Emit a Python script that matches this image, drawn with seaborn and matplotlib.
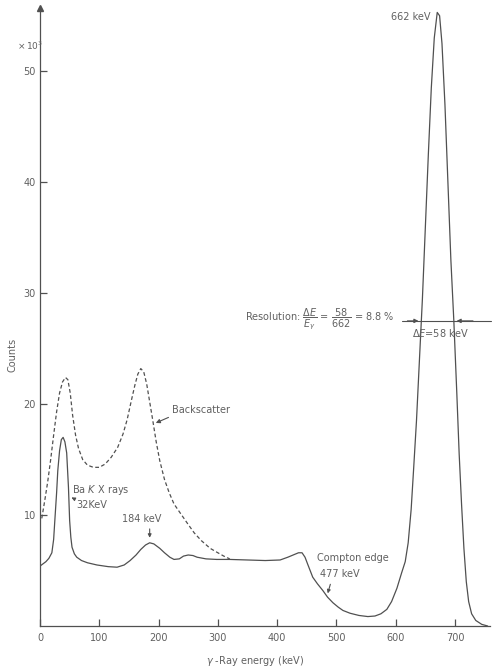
import numpy as np
import pandas as pd
import seaborn as sns
import matplotlib.pyplot as plt

# ---- data (energy in keV, counts in thousands) ----
energy_solid = [0, 5, 10, 15, 20, 23, 25, 28, 30, 33, 36, 39, 42, 45, 48, 50, 52, 54, 58, 62,
                70, 80, 96, 115, 130, 142, 152, 162, 170, 178, 185, 192, 202, 210, 219, 226,
                235, 242, 250, 258, 265, 280, 298, 320, 350, 380, 405, 418, 427, 436, 442,
                447, 452, 460, 468, 477, 485, 494, 503, 511, 523, 538, 553, 565, 575, 585,
                593, 602, 610, 616, 621, 626, 630, 635, 640, 645, 650, 655, 660, 665, 670,
                674, 678, 683, 688, 693, 698, 703, 707, 711, 715, 719, 723, 728, 735, 745, 755]
counts_solid = [5.4, 5.6, 5.8, 6.1, 6.6, 7.8, 9.5, 12.0, 14.0, 15.8, 16.8, 17.0, 16.6, 15.6, 12.5,
                9.5, 8.0, 7.1, 6.5, 6.2, 5.9, 5.7, 5.5, 5.35, 5.3, 5.5, 5.9, 6.4, 6.9, 7.3, 7.5,
                7.4, 7.0, 6.6, 6.2, 6.0, 6.05, 6.3, 6.4, 6.35, 6.2, 6.05, 6.0, 6.0, 5.95, 5.9,
                5.95, 6.2, 6.4, 6.6, 6.6, 6.2, 5.5, 4.4, 3.8, 3.2, 2.6, 2.1, 1.7, 1.4, 1.15,
                0.95, 0.85, 0.9, 1.1, 1.5, 2.2, 3.4, 4.8, 5.8, 7.5, 10.5, 14.0, 18.5, 24.0,
                29.5, 36.0, 42.5, 48.5, 53.0, 55.3, 55.0, 52.5, 47.0, 40.0, 33.0, 27.5, 21.0,
                15.5, 11.0, 7.0, 4.0, 2.2, 1.1, 0.5, 0.15, 0.0]

energy_back = [3, 8, 13, 18, 23, 28, 33, 38, 43, 47, 51, 55, 60, 65, 72, 80, 90, 100, 110, 120,
               131, 140, 147, 154, 160, 165, 170, 175, 180, 185, 190, 196, 202, 210, 218, 226,
               235, 248, 260, 272, 287, 300, 310, 320]
counts_back = [9.7, 11.3, 13.0, 15.0, 17.2, 19.3, 21.0, 22.0, 22.4, 22.2, 21.0, 19.0, 17.2, 16.0,
               15.0, 14.5, 14.3, 14.3, 14.6, 15.2, 16.1, 17.3, 18.6, 20.3, 21.7, 22.7, 23.2,
               22.9, 21.8, 20.2, 18.6, 16.6, 14.9, 13.2, 12.0, 11.0, 10.3, 9.3, 8.4, 7.7, 7.0,
               6.6, 6.3, 6.05]

xticks = [0, 100, 200, 300, 400, 500, 600, 700]
yticks = [10, 20, 30, 40, 50]

df_solid = pd.DataFrame({"energy": energy_solid, "counts": counts_solid})
df_back = pd.DataFrame({"energy": energy_back, "counts": counts_back})

sns.set_style("ticks")
plt.rcParams['font.family'] = ['DejaVu Sans']

LINE = "#505050"
TXT = "#606060"
FS = 7

fig = plt.figure(figsize=(4.94, 6.69), dpi=100)
ax = fig.add_axes([40/494, 1 - 626/669, 450/494, (626 - 8)/669])

sns.lineplot(data=df_solid, x="energy", y="counts", ax=ax, color=LINE, lw=0.9,
             estimator=None, sort=False)
sns.lineplot(data=df_back, x="energy", y="counts", ax=ax, color=LINE, lw=0.9,
             estimator=None, sort=False, linestyle=(0, (3, 2)))

ax.set_xlim(0, 759)
ax.set_ylim(0, 55.7)
ax.set_xticks(xticks)
ax.set_yticks(yticks)
ax.set_xticklabels([str(v) for v in xticks], fontsize=FS, color=TXT)
ax.set_yticklabels([str(v) for v in yticks], fontsize=FS, color=TXT)
ax.tick_params(direction='in', length=5, width=0.9, color=LINE)
ax.tick_params(axis='y', pad=3)
ax.tick_params(axis='x', pad=5)
ax.set_xlabel("")
ax.set_ylabel("")
for s in ("top", "right"):
    ax.spines[s].set_visible(False)
for s in ("left", "bottom"):
    ax.spines[s].set_color(LINE)
    ax.spines[s].set_linewidth(0.9)

# arrow at top of y-axis
ax.plot(0, 1, marker='^', color=LINE, markersize=5, transform=ax.transAxes, clip_on=False)

# figure-level labels
fig.text(30/494, 1 - 46/669, r"$\times\,10^3$", fontsize=FS - 0.5, color=TXT, ha='center', va='center')
fig.text(12/494, 1 - 355/669, "Counts", fontsize=FS, color=TXT, rotation=90, ha='center', va='center')
fig.text(255/494, 1 - 661/669, r"$\gamma$ -Ray energy (keV)", fontsize=FS, color=TXT, ha='center', va='center')

# annotations
ax.text(658, 54.9, "662 keV", fontsize=FS, color=TXT, ha='right', va='center')
ax.text(346, 27.6, r"Resolution: $\dfrac{\Delta E}{E_\gamma}$ = $\dfrac{58}{662}$ = 8.8 %",
        fontsize=FS, color=TXT, ha='left', va='center')
ax.plot([610, 760], [27.5, 27.5], color=LINE, lw=0.8, clip_on=False)
ax.annotate("", xy=(643, 27.5), xytext=(615, 27.5),
            arrowprops=dict(arrowstyle='-|>', color=LINE, lw=0.8, mutation_scale=6))
ax.annotate("", xy=(698, 27.5), xytext=(735, 27.5),
            arrowprops=dict(arrowstyle='-|>', color=LINE, lw=0.8, mutation_scale=6))
ax.text(675, 26.4, r"$\Delta E$=58 keV", fontsize=FS, color=TXT, ha='center', va='center')

ax.text(223, 19.5, "Backscatter", fontsize=FS, color=TXT, ha='left', va='center')
ax.annotate("", xy=(191, 18.2), xytext=(221, 18.9),
            arrowprops=dict(arrowstyle='-|>', color=LINE, lw=0.8, mutation_scale=6))

ax.text(54, 12.3, r"Ba $K$ X rays", fontsize=FS, color=TXT, ha='left', va='center')
ax.text(62, 10.9, "32KeV", fontsize=FS, color=TXT, ha='left', va='center')
ax.annotate("", xy=(49, 11.7), xytext=(60, 11.4),
            arrowprops=dict(arrowstyle='-|>', color=LINE, lw=0.8, mutation_scale=5))

ax.text(138, 9.6, "184 keV", fontsize=FS, color=TXT, ha='left', va='center')
ax.annotate("", xy=(185, 7.7), xytext=(185, 9.0),
            arrowprops=dict(arrowstyle='-|>', color=LINE, lw=0.8, mutation_scale=5))

ax.text(467, 6.1, "Compton edge", fontsize=FS, color=TXT, ha='left', va='center')
ax.text(472, 4.7, "477 keV", fontsize=FS, color=TXT, ha='left', va='center')
ax.annotate("", xy=(484, 2.7), xytext=(491, 4.0),
            arrowprops=dict(arrowstyle='-|>', color=LINE, lw=0.8, mutation_scale=5))

fig.savefig("out.png", dpi=100)
